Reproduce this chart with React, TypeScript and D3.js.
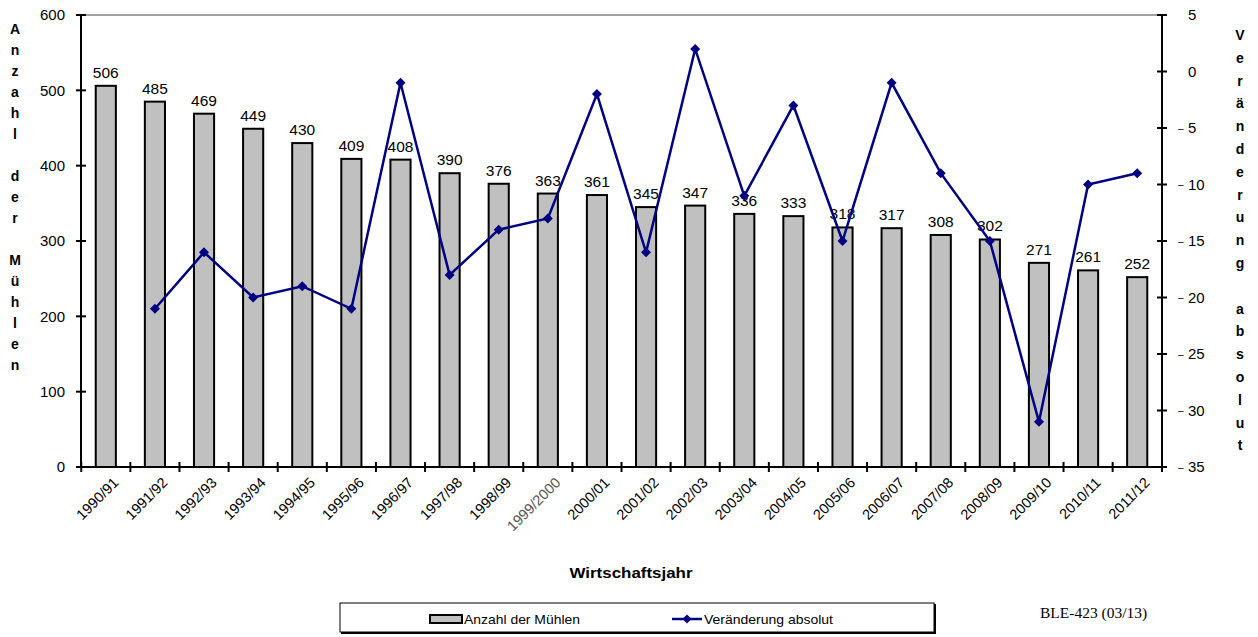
import React from "react";
import * as d3 from "d3";

const years = [
  "1990/91", "1991/92", "1992/93", "1993/94", "1994/95", "1995/96", "1996/97",
  "1997/98", "1998/99", "1999/2000", "2000/01", "2001/02", "2002/03", "2003/04",
  "2004/05", "2005/06", "2006/07", "2007/08", "2008/09", "2009/10", "2010/11", "2011/12",
];
const muehlen = [506, 485, 469, 449, 430, 409, 408, 390, 376, 363, 361, 345, 347, 336, 333, 318, 317, 308, 302, 271, 261, 252];
// first year has no change value
const veraenderung: (number | null)[] = [null, -21, -16, -20, -19, -21, -1, -18, -14, -13, -2, -16, 2, -11, -3, -15, -1, -9, -15, -31, -10, -9];
const leftTicks = [0, 100, 200, 300, 400, 500, 600];
const rightTicks = [5, 0, -5, -10, -15, -20, -25, -30, -35];
const leftTitle = "Anzahl der Mühlen";
const rightTitle = "Veränderung absolut";

const W = 1258;
const H = 637;
const plot = { left: 81, right: 1162, top: 15, bottom: 467 };
const font = "Arial, 'Liberation Sans', sans-serif";
const navy = "#000080";

function diamond(x: number, y: number, r: number) {
  return `M${x},${y - r}L${x + r},${y}L${x},${y + r}L${x - r},${y}Z`;
}

export default function App() {
  const x = d3.scaleBand<string>().domain(years).range([plot.left, plot.right]).paddingInner(0.59).paddingOuter(0.3);
  const step = x.step();
  const yL = d3.scaleLinear().domain([0, 600]).range([plot.bottom, plot.top]);
  const yR = d3.scaleLinear().domain([-35, 5]).range([plot.bottom, plot.top]);
  const cx = (d: string) => (x(d) as number) + x.bandwidth() / 2;

  const linePts = years
    .map((d, i) => ({ d, v: veraenderung[i] }))
    .filter((p) => p.v !== null) as { d: string; v: number }[];
  const line = d3
    .line<{ d: string; v: number }>()
    .x((p) => cx(p.d))
    .y((p) => yR(p.v));

  // band boundaries for x ticks
  const bounds = years.map((d) => cx(d) - step / 2).concat([plot.right]);

  return (
    <svg width={W} height={H} style={{ position: "absolute", left: 0, top: 0, background: "#fff" }} fontFamily={font}>
      {/* top border */}
      <line x1={plot.left} x2={plot.right} y1={plot.top} y2={plot.top} stroke="#808080" strokeWidth={1.5} />

      {/* bars */}
      {years.map((d, i) => (
        <g key={d}>
          <rect x={x(d)} y={yL(muehlen[i])} width={x.bandwidth()} height={yL(0) - yL(muehlen[i])} fill="#c0c0c0" stroke="#000" strokeWidth={2} />
          <text x={cx(d)} y={yL(muehlen[i]) - 8} textAnchor="middle" fontSize={15.5}>{muehlen[i]}</text>
        </g>
      ))}

      {/* line */}
      <path d={line(linePts) || ""} fill="none" stroke={navy} strokeWidth={2.5} />
      {linePts.map((p) => (
        <path key={p.d} d={diamond(cx(p.d), yR(p.v), 5)} fill={navy} />
      ))}

      {/* left axis */}
      <line x1={plot.left} x2={plot.left} y1={plot.top} y2={plot.bottom} stroke="#000" strokeWidth={2} />
      {leftTicks.map((t) => (
        <g key={t}>
          <line x1={plot.left - 5} x2={plot.left + 5} y1={yL(t)} y2={yL(t)} stroke="#000" strokeWidth={2} />
          <text x={plot.left - 16} y={yL(t)} dy="0.35em" textAnchor="end" fontSize={15}>{t}</text>
        </g>
      ))}

      {/* right axis */}
      <line x1={plot.right} x2={plot.right} y1={plot.top} y2={plot.bottom} stroke="#000" strokeWidth={2} />
      {rightTicks.map((t) => (
        <g key={t}>
          <line x1={plot.right - 5} x2={plot.right + 5} y1={yR(t)} y2={yR(t)} stroke="#000" strokeWidth={2} />
          {t < 0 ? (
            <text x={plot.right + 16} y={yR(t)} dy="0.35em" textAnchor="start" fontSize={10} fill="#000">{"\u2013"}</text>
          ) : null}
          <text x={plot.right + 26} y={yR(t)} dy="0.35em" textAnchor="start" fontSize={15}>{Math.abs(t)}</text>
        </g>
      ))}

      {/* x axis */}
      <line x1={plot.left - 5} x2={plot.right + 5} y1={plot.bottom} y2={plot.bottom} stroke="#000" strokeWidth={2} />
      {bounds.map((b, i) => (
        <line key={i} x1={b} x2={b} y1={plot.bottom - 5} y2={plot.bottom + 5} stroke="#000" strokeWidth={2} />
      ))}
      {years.map((d) => (
        <text key={d} transform={`translate(${cx(d) + 10},${plot.bottom + 13}) rotate(-45)`} textAnchor="end" dy="0.35em" fontSize={14.5}
          fill={d === "1999/2000" ? "#555" : "#000"}>
          {d}
        </text>
      ))}

      {/* axis titles */}
      {leftTitle.split("").map((c, i) => (
        <text key={"l" + i} x={15} y={29 + i * 21} dy="0.35em" textAnchor="middle" fontSize={14} fontWeight="bold">{c}</text>
      ))}
      {rightTitle.split("").map((c, i) => (
        <text key={"r" + i} x={1240} y={35 + i * 22.8} dy="0.35em" textAnchor="middle" fontSize={14} fontWeight="bold">{c}</text>
      ))}
      <text x={631} y={573} dy="0.35em" textAnchor="middle" fontSize={15} fontWeight="bold" textLength={123} lengthAdjust="spacingAndGlyphs">Wirtschaftsjahr</text>

      {/* legend */}
      <rect x={341} y={604} width={595} height={30} fill="#000" />
      <rect x={340} y={603} width={594} height={29} fill="#fff" stroke="#000" strokeWidth={1} />
      <rect x={430} y={615} width={32} height={8} fill="#c0c0c0" stroke="#000" strokeWidth={2} />
      <text x={464} y={619} dy="0.35em" fontSize={13} textLength={116} lengthAdjust="spacingAndGlyphs">Anzahl der Mühlen</text>
      <line x1={672} x2={702} y1={619} y2={619} stroke={navy} strokeWidth={2.5} />
      <path d={diamond(687, 619, 4.5)} fill={navy} />
      <text x={704} y={619} dy="0.35em" fontSize={13} textLength={129} lengthAdjust="spacingAndGlyphs">Veränderung absolut</text>

      <text x={1040} y={613} dy="0.35em" fontSize={15.5} fontFamily="'Liberation Serif', 'Times New Roman', serif">BLE-423 (03/13)</text>
    </svg>
  );
}
